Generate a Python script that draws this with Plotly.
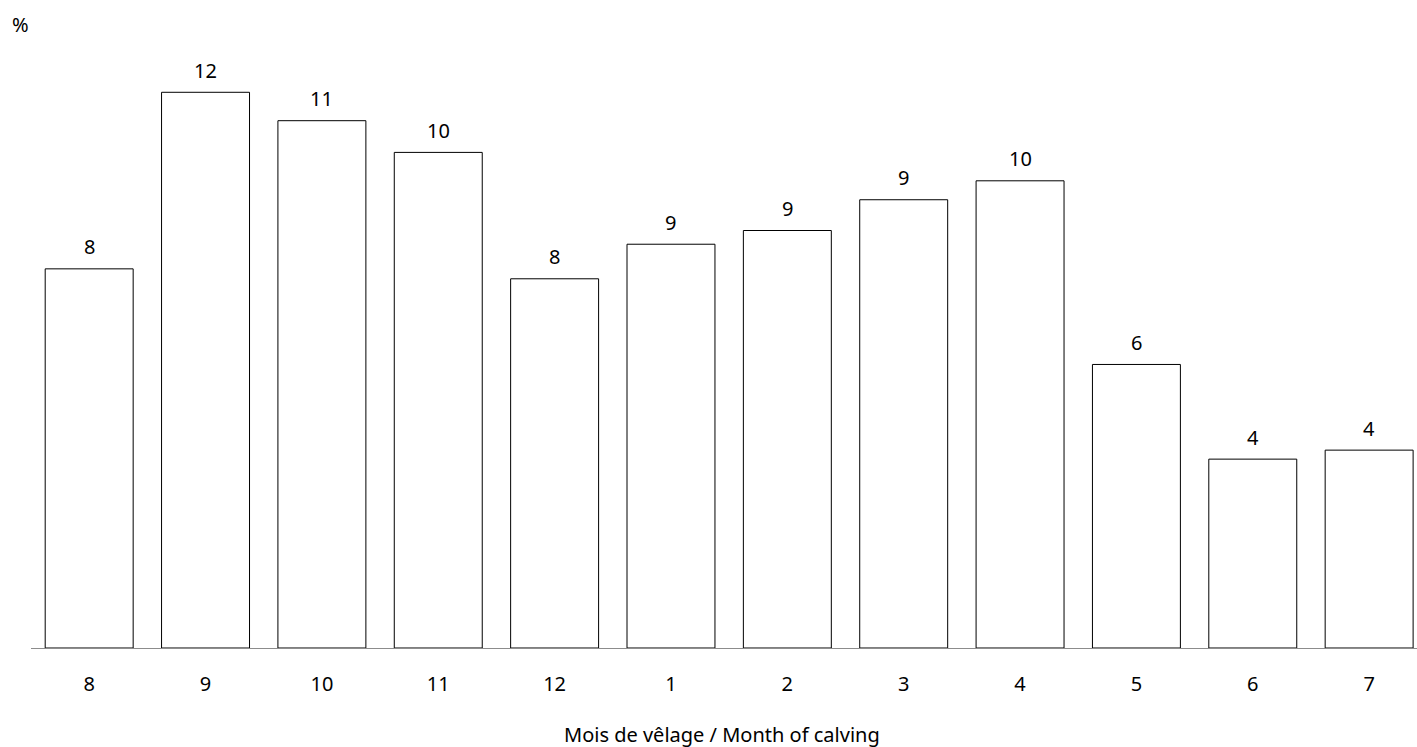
import plotly.graph_objects as go

months = ["8", "9", "10", "11", "12", "1", "2", "3", "4", "5", "6", "7"]
percent = [8.01, 11.74, 11.14, 10.47, 7.80, 8.53, 8.82, 9.47, 9.87, 5.99, 3.99, 4.18]
labels = ["8", "12", "11", "10", "8", "9", "9", "9", "10", "6", "4", "4"]

FONT = "Noto Sans, Open Sans, DejaVu Sans, sans-serif"
PW, PH = 1386, 608  # plot area size in px

fig = go.Figure(go.Bar(
    x=months,
    y=percent,
    marker=dict(color="#ffffff", line=dict(color="#000000", width=1)),
    hoverinfo="skip",
))

# value labels above bars (category index positions on the category axis)
bar_labels = [
    dict(x=i, y=v, text=t, xref="x", yref="y", showarrow=False,
         xanchor="center", yanchor="middle", yshift=22,
         font=dict(size=20, family=FONT, color="#000000"))
    for i, (v, t) in enumerate(zip(percent, labels))
]

fig.update_layout(
    width=1417, height=747,
    margin=dict(l=31, r=0, t=40, b=99),
    paper_bgcolor="#ffffff", plot_bgcolor="#ffffff",
    bargap=0.244,
    showlegend=False,
    font=dict(family=FONT, size=20, color="#000000"),
    xaxis=dict(
        type="category",
        range=[-0.5, -0.5 + PW / 116.36],
        showline=True, linecolor="#8c8c8c", linewidth=1,
        showgrid=False, zeroline=False,
        ticks="outside", ticklen=18, tickcolor="rgba(0,0,0,0)",
        tickfont=dict(size=20, family=FONT, color="#000000"),
    ),
    yaxis=dict(
        range=[0, PH / 47.335],
        showticklabels=False, showgrid=False, zeroline=False, showline=False,
    ),
    annotations=bar_labels + [
        dict(text="%", xref="paper", yref="paper", x=(20 - 31) / PW, y=1 + (40 - 25) / PH,
             xanchor="center", yanchor="middle", showarrow=False,
             font=dict(size=20, family=FONT, color="#000000")),
        dict(text="Mois de vêlage / Month of calving", xref="paper", yref="paper",
             x=(721.5 - 31) / PW, y=-(734 - 648) / PH,
             xanchor="center", yanchor="middle", showarrow=False,
             font=dict(size=20, family=FONT, color="#000000")),
    ],
)

fig.write_html(
    "out.html",
    config={"displayModeBar": False},
    post_script="document.body.style.margin='0';document.body.style.overflow='hidden';",
)
